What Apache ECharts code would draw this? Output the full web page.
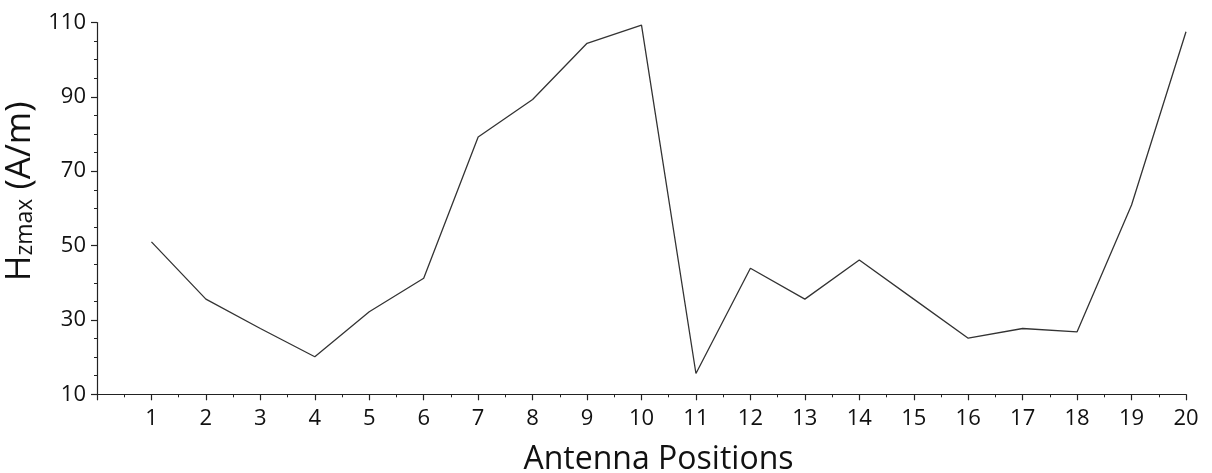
<!DOCTYPE html>
<html><head><meta charset="utf-8">
<script src="https://cdn.jsdelivr.net/npm/echarts@6/dist/echarts.min.js"></script>
<style>html,body{margin:0;padding:0;background:#fff}#c{width:1212px;height:473px}</style>
</head><body><div id="c"></div>
<script>
const positions = [1,2,3,4,5,6,7,8,9,10,11,12,13,14,15,16,17,18,19,20];
const hzmax = [51.0,35.6,27.7,20.1,32.2,41.2,79.2,89.3,104.4,109.3,15.6,43.9,35.6,46.1,35.6,25.1,27.7,26.8,60.9,107.5];
const yTicks = {min:10, max:110, interval:20};
const xTicks = {min:0, max:20, interval:1};
const xTitle = 'Antenna Positions';

const font = '"Open Sans", sans-serif';
const chart = echarts.init(document.getElementById('c'), null, {renderer:'canvas'});
chart.setOption({
  animation:false,
  backgroundColor:'#fff',
  grid:{left:97, right:26, top:22.5, bottom:78.7, containLabel:false, outerBoundsMode:'none'},
  xAxis:{
    type:'value', min:xTicks.min, max:xTicks.max, interval:xTicks.interval,
    axisLine:{lineStyle:{color:'#222', width:1.2}},
    axisTick:{show:true, inside:false, length:6, lineStyle:{color:'#222', width:1.2}},
    minorTick:{show:true, splitNumber:2, length:3, lineStyle:{color:'#222', width:1}},
    splitLine:{show:false},
    axisLabel:{margin:13, color:'#111', fontSize:22, fontFamily:font, formatter:v=> v===0?'':String(v)},
    name: xTitle, nameLocation:'middle', nameGap:50,
    nameTextStyle:{color:'#111', fontSize:32, fontFamily:font, padding:[0,0,0,34]}
  },
  yAxis:{
    type:'value', min:yTicks.min, max:yTicks.max, interval:yTicks.interval,
    axisLine:{show:true, lineStyle:{color:'#222', width:1.2}},
    axisTick:{show:true, inside:false, length:6, lineStyle:{color:'#222', width:1.2}},
    minorTick:{show:true, splitNumber:4, length:3, lineStyle:{color:'#222', width:1}},
    splitLine:{show:false},
    axisLabel:{margin:11, color:'#111', fontSize:22, fontFamily:font},
    name:'{a|H}{b|z}{c|max}{a| (A/m)}', nameLocation:'middle', nameGap:53, nameRotate:90,
    nameTextStyle:{
      color:'#111', fontFamily:font, padding:[0,0,0,34],
      rich:{
        a:{fontSize:35, fontFamily:font, color:'#111', verticalAlign:'bottom', lineHeight:42},
        b:{fontSize:23, fontFamily:font, color:'#111', verticalAlign:'bottom', lineHeight:35},
        c:{fontSize:23, fontFamily:font, color:'#111', verticalAlign:'bottom', lineHeight:39}
      }
    }
  },
  series:[{
    type:'line', data: positions.map((p,i)=>[p, hzmax[i]]),
    symbol:'none', smooth:false,
    lineStyle:{color:'#333', width:1.3}
  }]
});
</script></body></html>
